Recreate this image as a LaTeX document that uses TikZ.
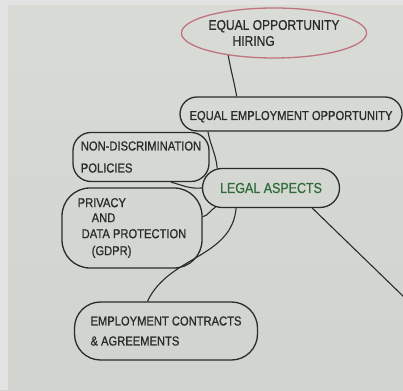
\documentclass[tikz,border=0pt]{standalone}
\usepackage{fontspec}
\newfontfamily\hand[FakeStretch=0.86,FakeBold=0.8]{Liberation Sans}
\usetikzlibrary{shapes.misc,shapes.geometric}
\definecolor{paper}{RGB}{209,211,207}
\definecolor{paperlight}{RGB}{217,219,215}
\definecolor{strip}{RGB}{226,227,226}
\definecolor{ink}{RGB}{42,44,42}
\definecolor{pinkink}{RGB}{192,116,126}
\definecolor{greenink}{RGB}{48,108,58}
\begin{document}
\begin{tikzpicture}[x=1pt,y=1pt,
  blob/.style={draw=ink, line width=1.3pt, inner sep=0pt, text=ink},
  pill/.style={blob, rounded rectangle},
  roundbox/.style={blob, rectangle, rounded corners=#1},
  link/.style={draw=ink, line width=1.1pt},
  f/.style={font=\hand\fontsize{#1}{#1}\selectfont}]
\useasboundingbox (0,0) rectangle (403,390);
% paper
\shade[top color=paperlight, bottom color=paper] (0,0) rectangle (403,390);
\fill[strip] (0,0) rectangle (8,390);
\fill[strip] (0,385) rectangle (403,390);
% nodes
\node[blob, ellipse, draw=pinkink, minimum width=160pt, minimum height=50pt,
      align=left, f=14] (hire) at (274,357)
      {EQUAL OPPORTUNITY\\[2pt]\hspace*{24pt}HIRING};
\node[pill, minimum width=222pt, minimum height=34pt, text height=12pt, text depth=0pt, f=13]
      (eeo) at (291,276)
      {EQUAL EMPLOYMENT OPPORTUNITY};
\node[roundbox=18pt, minimum width=136pt, minimum height=49pt, align=left, f=13]
      (ndp) at (141,233)
      {NON-DISCRIMINATION\\[9pt]POLICIES};
\node[pill, minimum width=137pt, minimum height=39pt, text=greenink, f=14.5]
      (legal) at (271,202) {LEGAL ASPECTS};
\node[roundbox=28pt, minimum width=140pt, minimum height=80pt, align=left, f=13]
      (priv) at (132,162)
      {PRIVACY\\[2pt]\hspace*{14pt}AND\\[3pt]\hspace*{4pt}DATA PROTECTION\\[4pt]\hspace*{14pt}(GDPR)};
\node[roundbox=26pt, minimum width=183pt, minimum height=58pt, align=left, f=13]
      (emp) at (166,59)
      {EMPLOYMENT CONTRACTS\\[7pt]\& AGREEMENTS};
\coordinate (edge) at (405,92);
% connectors
\draw[link] (hire.206) to[out=-80,in=100] (eeo.162);
\draw[link] (eeo.192) to[out=-80,in=95] (legal.160);
\draw[link] (ndp.-40) to[out=-15,in=185] (legal.180);
\draw[link] (legal.199) to[out=210,in=15] (priv.9);
\draw[link] (legal.210) to[out=-95,in=65] (emp.122);
\draw[link] (legal.-26) -- (edge);
\end{tikzpicture}
\end{document}
